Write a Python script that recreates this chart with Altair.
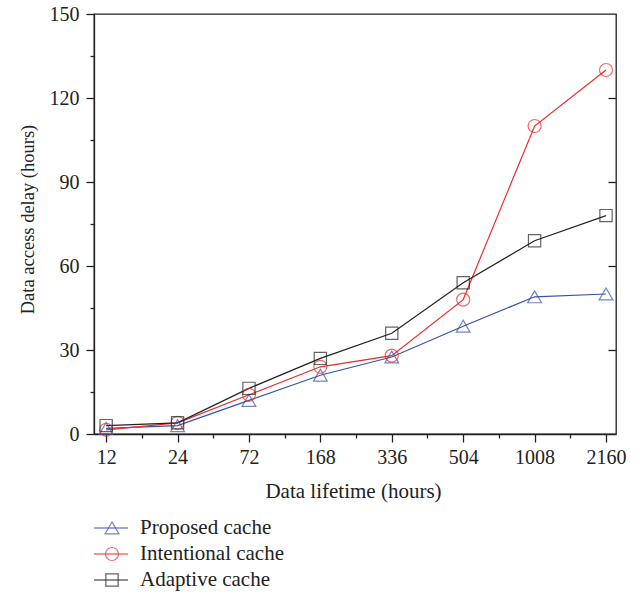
import json
import altair as alt
import pandas as pd

categories = ["12", "24", "72", "168", "336", "504", "1008", "2160"]
series = ["Proposed cache", "Intentional cache", "Adaptive cache"]
proposed = [2, 3, 12, 21, 27.5, 38.5, 49, 50]
intentional = [1.5, 4, 14, 24, 28, 48, 110, 130]
adaptive = [3, 4, 16.3, 27, 36, 54, 69, 78]
colors = ["#3a52a8", "#ee2b2b", "#222222"]
shapes = ["triangle-up", "circle", "square"]
sizes = [190, 150, 105]

rows = []
for name, vals in zip(series, [proposed, intentional, adaptive]):
    for i, (c, v) in enumerate(zip(categories, vals)):
        rows.append({"series": name, "idx": i, "lifetime": c, "delay": v})
df = pd.DataFrame(rows)
leg = pd.DataFrame({"series": series})

FONT = "Liberation Serif"
label_expr = json.dumps(categories) + "[datum.value]"

xscale = alt.Scale(domain=[-0.17, 7.14], nice=False, zero=False)
yscale = alt.Scale(domain=[0, 150], nice=False)
cscale = alt.Scale(domain=series, range=colors)
sscale = alt.Scale(domain=series, range=shapes)
zscale = alt.Scale(domain=series, range=sizes)

base = alt.Chart(df)

lines = base.mark_line(strokeWidth=1.2).encode(
    x=alt.X("idx:Q", scale=xscale,
            axis=alt.Axis(values=list(range(8)), labelExpr=label_expr,
                          tickSize=8, labelPadding=5, grid=False,
                          title="Data lifetime (hours)", titleX=259, titleY=57,
                          titleFontSize=21,
                          titleBaseline="middle", titleAlign="center")),
    y=alt.Y("delay:Q", scale=yscale,
            axis=alt.Axis(values=[0, 30, 60, 90, 120, 150], tickSize=8,
                          labelPadding=7, grid=False,
                          title="Data access delay (hours)", titleX=-67, titleY=205,
                          titleFontSize=18.5,
                          titleAngle=-90, titleBaseline="middle", titleAlign="center")),
    color=alt.Color("series:N", scale=cscale, legend=None),
    detail="series:N",
)

points = base.mark_point(filled=False, strokeWidth=1.2).encode(
    x=alt.X("idx:Q", scale=xscale,
            axis=alt.Axis(orient="bottom", values=[i + 0.5 for i in range(7)],
                          tickSize=4, labels=False, domain=False, grid=False, title=None)),
    y=alt.Y("delay:Q", scale=yscale,
            axis=alt.Axis(orient="left", values=[15, 45, 75, 105, 135], tickSize=4,
                          labels=False, domain=False, grid=False, title=None)),
    color=alt.Color("series:N", scale=cscale, legend=None),
    shape=alt.Shape("series:N", scale=sscale, legend=None),
    size=alt.Size("series:N", scale=zscale, legend=None),
)

right_ticks = base.mark_point(opacity=0).encode(
    x=alt.X("idx:Q", scale=xscale, axis=None),
    y=alt.Y("delay:Q", scale=yscale,
            axis=alt.Axis(orient="right", values=[30, 60, 90, 120], tickSize=8,
                          offset=-8, labels=False, domain=False, grid=False, title=None)),
)

legy = alt.Y("series:N", scale=alt.Scale(type="point", domain=series, range=[514, 566], padding=0),
             axis=None)
leg_rule = alt.Chart(leg).mark_rule(strokeWidth=1.2).encode(
    x=alt.value(0), x2=alt.value(34), y=legy,
    color=alt.Color("series:N", scale=cscale, legend=None),
)
leg_pt = alt.Chart(leg).mark_point(filled=False, strokeWidth=1.2).encode(
    x=alt.value(18), y=legy,
    color=alt.Color("series:N", scale=cscale, legend=None),
    shape=alt.Shape("series:N", scale=sscale, legend=None),
    size=alt.Size("series:N", scale=zscale, legend=None),
)
leg_txt = alt.Chart(leg).mark_text(align="left", baseline="middle", font=FONT,
                                   fontSize=21, color="#222").encode(
    x=alt.value(46), y=legy, text="series:N",
)

chart = alt.layer(lines, points, right_ticks, leg_rule, leg_pt, leg_txt).resolve_axis(
    x="independent", y="independent"
).resolve_scale(y="independent").properties(
    width=522, height=420,
    autosize=alt.AutoSizeParams(type="none"),
    padding={"left": 94, "top": 14, "right": 27, "bottom": 163},
    background="white",
).configure_view(
    stroke="#222", strokeWidth=1.3
).configure_axis(
    domainColor="#222", domainWidth=1.3, tickColor="#222", tickWidth=1.3,
    labelFont=FONT, labelFontSize=20, labelColor="#222",
    titleFont=FONT, titleFontWeight="normal", titleColor="#222",
)

chart.save("out.html", embed_options={"renderer": "svg", "actions": False})
